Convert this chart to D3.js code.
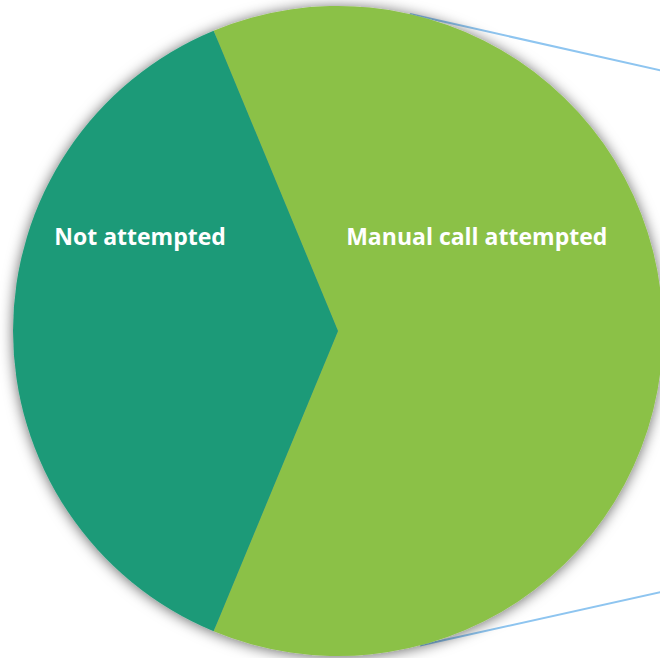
<!DOCTYPE html>
<html>
<head>
<meta charset="utf-8">
<script src="https://cdn.jsdelivr.net/npm/d3@7/dist/d3.min.js"></script>
<style>
  html, body { margin: 0; padding: 0; background: #ffffff; }
  svg { display: block; }
</style>
</head>
<body>
<svg id="chart" width="660" height="658"></svg>
<script>
// Share of calls by outcome (percent)
const categories = ["Manual call attempted", "Not attempted"];
const values = [62.5, 37.5];
const colors = ["#8bc147", "#1f9a78"];

const width = 660, height = 658;
const cx = 338, cy = 331, radius = 325;
// Manual-call slice starts a little left of 12 o'clock
const startAngle = -22.5 * Math.PI / 180;

const svg = d3.select("#chart");

const defs = svg.append("defs");
const shadow = defs.append("filter")
  .attr("id", "pieShadow")
  .attr("x", "-10%").attr("y", "-10%")
  .attr("width", "120%").attr("height", "120%");
shadow.append("feDropShadow")
  .attr("dx", 0).attr("dy", 1)
  .attr("stdDeviation", 7)
  .attr("flood-color", "#000")
  .attr("flood-opacity", 0.6);

const g = svg.append("g").attr("transform", `translate(${cx},${cy})`);

// Connector lines leading off to the right-hand detail chart
const connectorAngles = [12.8, 165.4].map(a => a * Math.PI / 180);
const slopes = [0.225, -0.222];
connectorAngles.forEach((a, i) => {
  const x0 = radius * Math.sin(a), y0 = -radius * Math.cos(a);
  const x1 = width - cx + 10;
  const y1 = y0 + slopes[i] * (x1 - x0);
  g.append("line")
    .attr("x1", x0).attr("y1", y0)
    .attr("x2", x1).attr("y2", y1)
    .attr("stroke", "#8ec5f0")
    .attr("stroke-width", 2);
});

const pie = d3.pie()
  .sort(null)
  .value(d => d)
  .startAngle(startAngle)
  .endAngle(startAngle + 2 * Math.PI);

const arc = d3.arc().innerRadius(0).outerRadius(radius);
const arcs = pie(values);

const slices = g.append("g").attr("filter", "url(#pieShadow)");
slices.selectAll("path")
  .data(arcs)
  .join("path")
  .attr("d", arc)
  .attr("fill", (d, i) => colors[i]);

// Label anchors as fractions of the radius
const labelPos = [[0.427, -0.292], [-0.609, -0.292]];
g.selectAll("text.label")
  .data(arcs)
  .join("text")
  .attr("class", "label")
  .attr("x", (d, i) => labelPos[i][0] * radius)
  .attr("y", (d, i) => labelPos[i][1] * radius)
  .attr("text-anchor", "middle")
  .attr("dominant-baseline", "central")
  .attr("fill", "#ffffff")
  .attr("font-family", "'Open Sans', 'Noto Sans', sans-serif")
  .attr("font-weight", "bold")
  .attr("font-size", 23)
  .text((d, i) => categories[i]);
</script>
</body>
</html>
